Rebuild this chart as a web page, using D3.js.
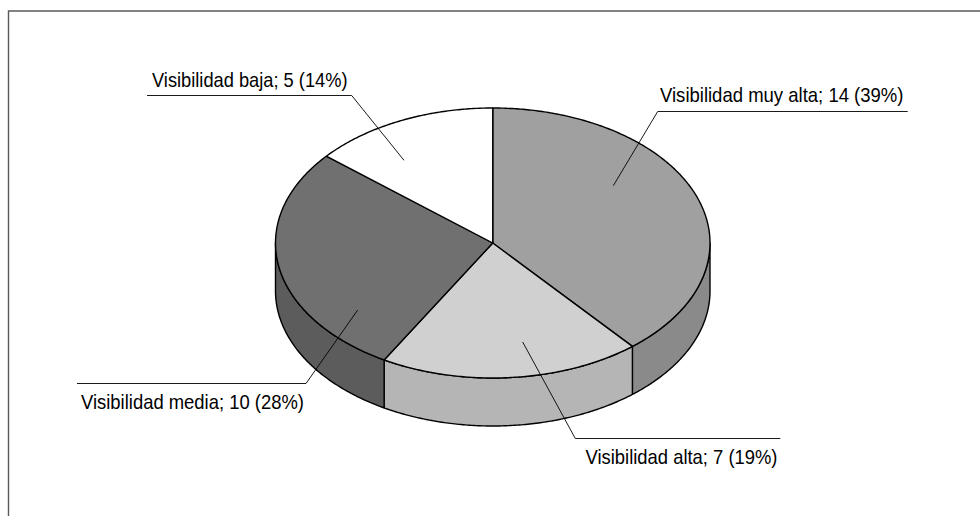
<!DOCTYPE html>
<html>
<head>
<meta charset="utf-8">
<script src="https://cdn.jsdelivr.net/npm/d3@7"></script>
<style>
  html, body { margin: 0; padding: 0; background: #fff; overflow: hidden; }
  text { font-family: "Liberation Sans", Arial, sans-serif; fill: #000; }
</style>
</head>
<body>
<div id="chart"></div>
<script>
const categories = ["Visibilidad muy alta", "Visibilidad alta", "Visibilidad media", "Visibilidad baja"];
const values = [14, 7, 10, 5];
const percents = [39, 19, 28, 14];

const topColors = ["#a0a0a0", "#d0d0d0", "#707070", "#ffffff"];
const sideColors = ["#8a8a8a", "#b5b5b5", "#5c5c5c", "#ffffff"];

// leader: tip, elbow, end of the shelf. label: x, baseline, text width
const leaders = [
    [[613.3, 185.7], [657.7, 111.5], [907.7, 111.5]],
    [[522.7, 342], [575.3, 438.5], [780.3, 438.5]],
    [[357.7, 310], [306, 383.5], [77, 383.5]],
    [[404, 160.3], [351.7, 95.5], [147, 95.5]]
];
const labelPos = [[660, 102, 243.5], [585.5, 463.5, 192], [81, 408.5, 223], [152, 86.5, 195.5]];

const width = 980, height = 516;
const depth = 48;

const svg = d3.select("#chart").append("svg")
    .attr("width", width)
    .attr("height", height)
    .attr("viewBox", [0, 0, width, height])
    .style("display", "block");

// frame, only top and left are in the picture
svg.append("path")
    .attr("d", "M8.5," + height + "V11H" + width)
    .attr("fill", "none")
    .attr("stroke", "#5a5a5a")
    .attr("stroke-width", 1.4);

const x = d3.scaleLinear().domain([-1, 1]).range([275.5, 710]);
const y = d3.scaleLinear().domain([-1, 1]).range([108, 378]);

const pie = d3.pie().sort(null).value(d => d);
const slices = pie(values);

const line = d3.line();

function rim(a0, a1, dy) {
    const n = Math.max(2, Math.ceil((a1 - a0) / 0.01));
    return d3.range(n + 1).map(i => {
        const a = a0 + (a1 - a0) * i / n;
        return [x(Math.sin(a)), y(-Math.cos(a)) + dy];
    });
}

// walls, only the front half of the ellipse can be seen
const front0 = Math.PI / 2, front1 = Math.PI * 3 / 2;
const walls = slices.filter(d => d.endAngle > front0 && d.startAngle < front1);

svg.selectAll("path.wall")
    .data(walls)
    .enter()
    .append("path")
    .attr("class", "wall")
    .attr("fill", d => sideColors[d.index])
    .attr("stroke", "#000")
    .attr("stroke-width", 1.4)
    .attr("stroke-linejoin", "round")
    .attr("d", d => {
        const a0 = Math.max(d.startAngle, front0);
        const a1 = Math.min(d.endAngle, front1);
        return line(rim(a0, a1, 0).concat(rim(a0, a1, depth).reverse())) + "Z";
    });

// top face
svg.selectAll("path.top")
    .data(slices)
    .enter()
    .append("path")
    .attr("class", "top")
    .attr("fill", d => topColors[d.index])
    .attr("stroke", "#000")
    .attr("stroke-width", 1.4)
    .attr("stroke-linejoin", "round")
    .attr("d", d => line([[x(0), y(0)]].concat(rim(d.startAngle, d.endAngle, 0))) + "Z");

// leaders
svg.selectAll("path.leader")
    .data(leaders)
    .enter()
    .append("path")
    .attr("class", "leader")
    .attr("fill", "none")
    .attr("stroke", "#000")
    .attr("stroke-width", 0.9)
    .attr("d", d => line(d));

svg.selectAll("text.label")
    .data(categories)
    .enter()
    .append("text")
    .attr("class", "label")
    .attr("x", (d, i) => labelPos[i][0])
    .attr("y", (d, i) => labelPos[i][1])
    .attr("font-size", 21)
    .attr("textLength", (d, i) => labelPos[i][2])
    .attr("lengthAdjust", "spacingAndGlyphs")
    .text((d, i) => d + "; " + values[i] + " (" + percents[i] + "%)");
</script>
</body>
</html>
